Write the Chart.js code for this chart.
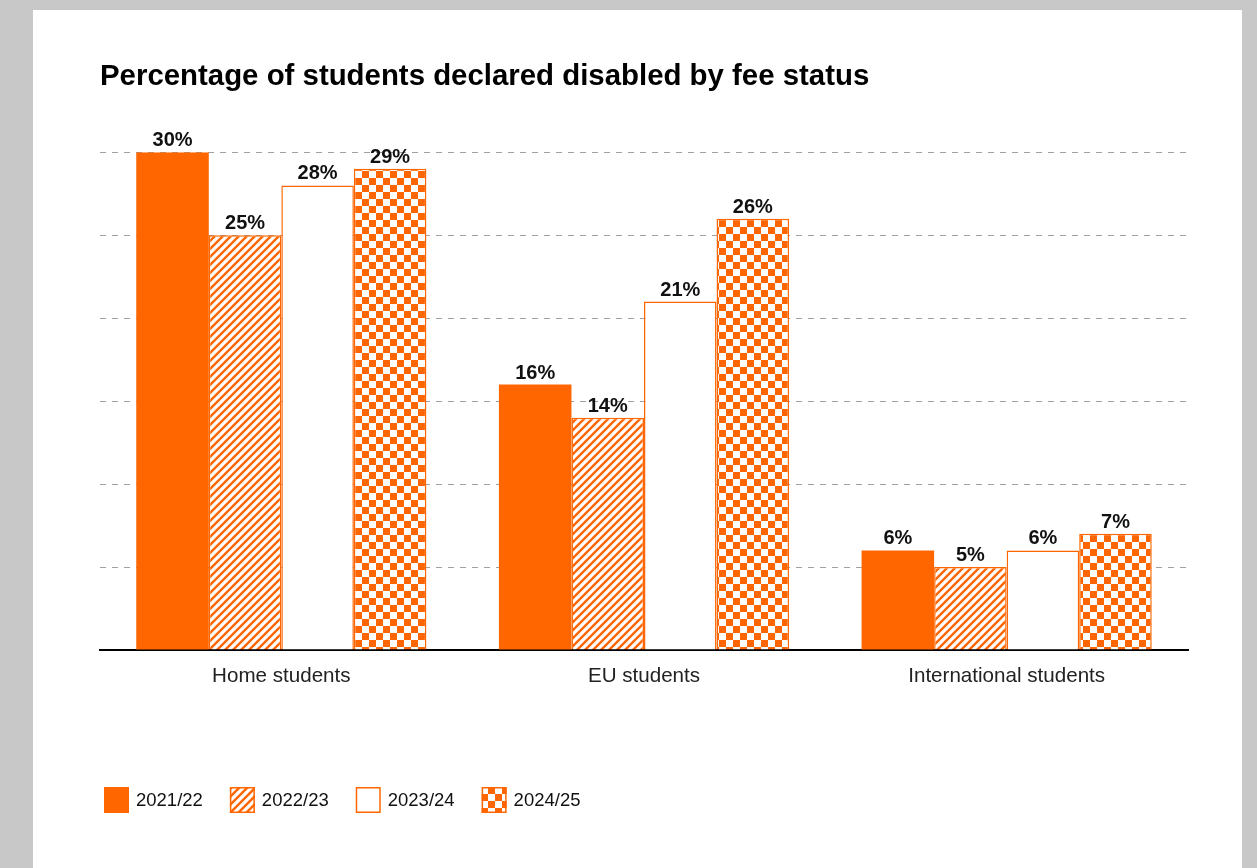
<!DOCTYPE html>
<html>
<head>
<meta charset="utf-8">
<script src="https://cdn.jsdelivr.net/npm/chart.js@4"></script>
<style>
  html, body { margin: 0; padding: 0; background: #c8c8c8; width: 1257px; height: 868px; overflow: hidden; }
  #card { position: absolute; left: 33px; top: 10px; width: 1209px; height: 858px; background: #fff; }
  canvas { display: block; }
</style>
</head>
<body>
<div id="card"><canvas id="c" width="1209" height="858"></canvas></div>
<script>
const categories = ['Home students', 'EU students', 'International students'];
const seriesLabels = ['2021/22', '2022/23', '2023/24', '2024/25'];
const values2021 = [30, 16, 6];
const values2022 = [25, 14, 5];
const values2023 = [28, 21, 6];
const values2024 = [29, 26, 7];
const yTicks = [0, 5, 10, 15, 20, 25, 30];

const ORANGE = '#ff6600';
const FONT = '"Liberation Sans", Arial, Helvetica, sans-serif';

function checker(color, s) {
  const c = document.createElement('canvas');
  c.width = c.height = s * 2;
  const x = c.getContext('2d');
  x.fillStyle = '#fff'; x.fillRect(0, 0, s * 2, s * 2);
  x.fillStyle = color; x.fillRect(0, 0, s, s); x.fillRect(s, s, s, s);
  return x.createPattern(c, 'repeat');
}
function hatch(color, s, w) {
  const c = document.createElement('canvas');
  c.width = c.height = s;
  const x = c.getContext('2d');
  x.fillStyle = '#fff'; x.fillRect(0, 0, s, s);
  x.strokeStyle = color; x.lineWidth = w; x.lineCap = 'square';
  x.beginPath();
  x.moveTo(0, s); x.lineTo(s, 0);
  x.moveTo(-s / 2, s / 2); x.lineTo(s / 2, -s / 2);
  x.moveTo(s / 2, s * 1.5); x.lineTo(s * 1.5, s / 2);
  x.stroke();
  return x.createPattern(c, 'repeat');
}

const fills = [ORANGE, hatch(ORANGE, 8, 2.4), '#ffffff', checker(ORANGE, 7)];
const borders = [0, 1.5, 1.5, 1.5];
const seriesValues = [values2021, values2022, values2023, values2024];

const datasets = seriesLabels.map((lab, i) => ({
  label: lab,
  data: seriesValues[i],
  backgroundColor: fills[i],
  borderColor: ORANGE,
  borderWidth: borders[i],
  barPercentage: 1.0,
  categoryPercentage: 0.8
}));

const valueLabels = {
  id: 'valueLabels',
  afterDatasetsDraw(chart) {
    const ctx = chart.ctx;
    ctx.save();
    ctx.font = 'bold 20px ' + FONT;
    ctx.fillStyle = '#111';
    ctx.textAlign = 'center';
    ctx.textBaseline = 'alphabetic';
    chart.data.datasets.forEach((ds, di) => {
      const meta = chart.getDatasetMeta(di);
      meta.data.forEach((el, i) => {
        ctx.fillText(ds.data[i] + '%', el.x, el.y - 6);
      });
    });
    ctx.restore();
  }
};

const customLegend = {
  id: 'customLegend',
  afterDraw(chart) {
    const ctx = chart.ctx;
    ctx.save();
    ctx.font = '18.5px ' + FONT;
    ctx.textBaseline = 'middle';
    let x = 71;
    const top = 777, bw = 25, bh = 26;
    chart.data.datasets.forEach((ds) => {
      ctx.fillStyle = ds.backgroundColor;
      ctx.fillRect(x, top, bw, bh);
      ctx.strokeStyle = ORANGE;
      ctx.lineWidth = 1.5;
      ctx.strokeRect(x + 0.75, top + 0.75, bw - 1.5, bh - 1.5);
      ctx.fillStyle = '#111';
      ctx.textAlign = 'left';
      const tx = x + bw + 7;
      ctx.fillText(ds.label, tx, top + bh / 2 + 1);
      x = tx + ctx.measureText(ds.label).width + 27;
    });
    ctx.restore();
  }
};

new Chart(document.getElementById('c'), {
  type: 'bar',
  data: { labels: categories, datasets },
  options: {
    responsive: false,
    animation: false,
    layout: { padding: { left: 67, right: 54, top: 24, bottom: 178 } },
    plugins: {
      legend: { display: false },
      tooltip: { enabled: false },
      title: {
        display: true,
        text: 'Percentage of students declared disabled by fee status',
        align: 'start',
        color: '#000',
        font: { family: FONT, size: 29.4, weight: 'bold' },
        padding: { top: 25, bottom: 58 }
      }
    },
    scales: {
      x: {
        grid: { display: false },
        border: { display: true, color: '#000', width: 2 },
        ticks: { color: '#222', font: { family: FONT, size: 20.6 }, padding: 6 },
        afterFit(scale) { scale.height = 40; }
      },
      y: {
        min: 0, max: 30,
        afterBuildTicks(scale) { scale.ticks = yTicks.map(v => ({ value: v })); },
        ticks: { display: false },
        grid: { color: '#a0a0a0', lineWidth: 1, drawTicks: false },
        border: { display: false, dash: [6, 6] },
        afterFit(scale) { scale.width = 0; }
      }
    }
  },
  plugins: [valueLabels, customLegend]
});
</script>
</body>
</html>
